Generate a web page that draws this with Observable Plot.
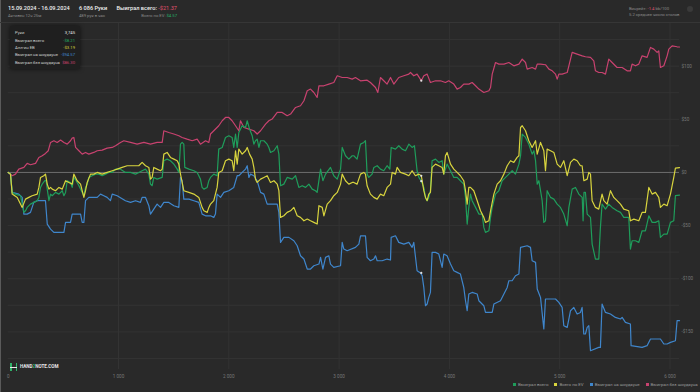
<!DOCTYPE html>
<html><head><meta charset="utf-8">
<script src="https://cdn.jsdelivr.net/npm/d3@7"></script>
<script src="https://cdn.jsdelivr.net/npm/@observablehq/plot@0.6"></script>
<style>
html,body{margin:0;padding:0;background:#292929;}
body{font-family:Roboto,"Noto Sans",sans-serif;}
#wrap{position:relative;width:700px;height:392px;background:#292929;overflow:hidden;}
.abs{position:absolute;white-space:nowrap;line-height:1;}
#chart{position:absolute;left:0;top:22px;width:700px;height:370px;border-top:1px solid #363636;box-sizing:border-box;}
#chart svg{display:block;}
#edge{position:absolute;left:0;top:0;width:1px;height:392px;background:#5a5a5a;}
.h1{color:#f0f0f0;font-size:5.6px;font-weight:500;}
.sub{color:#8a8a8a;font-size:4.2px;}
#tip{position:absolute;left:10px;top:26px;width:70px;height:43px;background:#1f1f1f;box-shadow:0 0 4px rgba(0,0,0,.6);border-radius:1px;}
#tip .row{position:absolute;left:5px;right:5px;font-size:4.2px;color:#d0d0d0;line-height:1;}
#tip .row span{position:absolute;right:0;top:0;}
#legend{position:absolute;top:383px;left:513px;font-size:4.4px;color:#9a9a9a;white-space:nowrap;line-height:1;}
#legend i{display:inline-block;width:3px;height:3px;margin-right:2px;vertical-align:0px;}
#legend b{font-weight:400;margin-right:6px;}
</style></head><body>
<div id="wrap">
  <div id="edge"></div>
  <div class="abs h1" style="left:8px;top:6px;">15.09.2024 - 16.09.2024</div>
  <div class="abs sub" style="left:8px;top:13.5px;">Активен 12ч 25м</div>
  <div class="abs h1" style="left:79px;top:6px;">6 086 Руки</div>
  <div class="abs sub" style="left:79px;top:13.5px;">489 рук в час</div>
  <div class="abs h1" style="left:116.5px;top:6px;">Выиграл всего: <span style="color:#e0516f;font-weight:400;">-$21.37</span></div>
  <div class="abs sub" style="right:523px;top:13.5px;">Всего по EV: <span style="color:#27b06a;">$4.57</span></div>
  <div class="abs sub" style="left:629px;top:7px;">Винрейт: <span style="color:#e0516f;">-1.4</span> bb/100</div>
  <div class="abs sub" style="left:629px;top:13px;">5.2 среднее число столов</div>
  <div class="abs" style="left:687px;top:6px;width:6px;height:6px;border-radius:50%;background:#3a3a3a;"></div>
  <div id="chart"></div>
  <div id="tip">
    <div class="row" style="top:5px;">Руки<span style="color:#e8e8e8;">3,745</span></div>
    <div class="row" style="top:12.5px;">Выиграл всего<span style="color:#22a862;">-$8.21</span></div>
    <div class="row" style="top:20px;">Алл-ин EB<span style="color:#d8d43e;">-$3.19</span></div>
    <div class="row" style="top:27.3px;">Выиграл на шоудауне<span style="color:#3f86cc;">-$94.57</span></div>
    <div class="row" style="top:34.5px;">Выиграл без шоудауна<span style="color:#c8426f;">$86.30</span></div>
  </div>
  <div class="abs" style="left:10px;top:363px;width:7px;height:8px;">
    <div style="position:absolute;left:0;top:0;width:1.5px;height:8px;background:#2fb36a;"></div>
    <div style="position:absolute;right:0;top:0;width:1.5px;height:8px;background:#2fb36a;"></div>
    <div style="position:absolute;left:0;top:3.5px;width:7px;height:1.3px;background:#e8e8e8;"></div>
  </div>
  <div class="abs" style="left:20px;top:365px;font-size:4.6px;font-weight:700;color:#e6e6e6;">HAND<span style="color:#2fb36a;">2</span>NOTE.COM</div>
  <div id="legend"></div>
</div>
<script>
// ---- data ----
const seriesNames = ["Выиграл всего", "Всего по EV", "Выиграл на шоудауне", "Выиграл без шоудауна"];
const seriesColors = ["#1f9d5b", "#d8d43e", "#3f86cc", "#c8426f"];

const wonTotal = [[0,0],[21,-1.6],[36,-18.8],[66,-20.4],[112,-21.9],[127,-29.8],[142,-37.6],[157,-36.1],[172,-32.9],[202,-29.8],[232,-28.2],[263,-26.6],[278,-23.5],[293,-14.1],[308,-11],[332,-7.8],[344,-7.8],[354,-15.7],[369,-26.6],[384,-20.4],[399,-21.9],[429,-18.8],[460,-20.4],[490,-17.2],[505,-21.9],[520,-18.8],[535,-7.8],[565,-9.4],[580,-14.1],[595,-4.7],[616,-7.8],[641,-12.5],[671,-18.8],[686,-21.9],[701,-14.1],[716,-11],[731,-4.7],[761,-3.1],[792,-1.6],[822,-1.6],[852,-3.1],[882,-1.6],[912,0],[943,0],[973,3.1],[1018,3.1],[1063,0],[1109,0],[1154,-1.6],[1184,0],[1214,1.6],[1245,3.1],[1275,-1.6],[1290,-11],[1305,-12.5],[1320,-4.7],[1350,-6.3],[1396,-4.7],[1411,11],[1441,12.5],[1471,11],[1502,7.8],[1532,3.1],[1547,0],[1562,26.6],[1577,28.2],[1592,26.6],[1601,4.7],[1638,3.1],[1683,1.6],[1713,0],[1728,-3.1],[1743,-6.3],[1758,-14.1],[1774,-15.7],[1804,-14.1],[1819,-7.8],[1834,-4.7],[1864,-1.6],[1894,-3.1],[1909,21.9],[1940,23.5],[1970,32.9],[2000,34.5],[2030,32.9],[2045,23.5],[2061,36.1],[2076,23.5],[2091,37.6],[2121,43.9],[2152,42.3],[2167,48.6],[2188,40.8],[2212,34.5],[2227,26.6],[2242,29.8],[2257,31.3],[2273,23.5],[2288,29.8],[2318,29.8],[2348,26.6],[2363,23.5],[2378,18.8],[2409,20.4],[2439,25.1],[2454,17.2],[2469,-12.5],[2499,-11],[2529,-4.7],[2575,-6.3],[2605,-3.1],[2635,-14.1],[2665,-12.5],[2696,-14.1],[2726,-11],[2756,-15.7],[2786,-17.2],[2801,-18.8],[2832,3.1],[2853,-7.8],[2877,-1.6],[2922,4.7],[2952,-3.1],[2983,-6.3],[3013,3.1],[3028,23.5],[3058,15.7],[3088,12.5],[3119,15.7],[3133,15.7],[3163,12.5],[3194,26.6],[3224,28.2],[3239,29.8],[3254,-1.6],[3269,-4.7],[3299,-1.6],[3315,4.7],[3345,6.3],[3375,3.1],[3405,1.6],[3435,6.3],[3460,3.1],[3472,23.5],[3511,21.9],[3541,25.1],[3571,21.9],[3602,20.4],[3632,26.6],[3662,23.5],[3683,25.1],[3707,1.6],[3723,-4.7],[3745,-8.21],[3768,-14.1],[3783,-23.5],[3798,-26.6],[3813,-23.5],[3828,-17.2],[3843,11],[3874,12.5],[3904,9.4],[3934,11],[3949,-1.6],[3979,7.8],[4010,1.6],[4040,-4.7],[4070,-4.7],[4100,-7.8],[4130,-11],[4146,-23.5],[4161,-48.6],[4176,-32.9],[4191,-20.4],[4206,-26.6],[4237,-32.9],[4267,-39.2],[4297,-39.2],[4312,-51.7],[4327,-56.4],[4358,-54.9],[4373,-42.3],[4388,-32.9],[4418,-20.4],[4448,-17.2],[4478,-7.8],[4509,-4.7],[4539,-1.6],[4569,1.6],[4599,-1.6],[4630,7.8],[4645,15.7],[4660,36.1],[4690,32.9],[4720,26.6],[4750,17.2],[4766,20.4],[4781,11],[4796,-11],[4811,-7.8],[4841,-26.6],[4856,-47],[4871,-45.5],[4886,-17.2],[4917,-23.5],[4947,-25.1],[4977,-29.8],[5007,-32.9],[5037,-39.2],[5068,-50.2],[5083,-32.9],[5113,-15.7],[5143,-14.1],[5173,-20.4],[5204,-23.5],[5212,-45.5],[5220,-18.8],[5233,-18.8],[5249,-39.2],[5279,-42.3],[5294,-67.4],[5324,-81.5],[5354,-81.5],[5369,-51.7],[5384,-29.8],[5415,-34.5],[5445,-29.8],[5475,-32.9],[5520,-36.1],[5551,-37.6],[5581,-42.3],[5626,-42.3],[5641,-72.1],[5656,-64.3],[5687,-64.3],[5717,-65.8],[5747,-54.9],[5777,-54.9],[5808,-40.8],[5838,-47],[5868,-47],[5898,-45.5],[5913,-61.1],[5944,-58],[5974,-58],[6004,-47],[6034,-45.5],[6049,-21.9],[6086,-21.37]];

const allInEV = [[0,0],[21,-1.6],[36,-20.4],[82,-23.5],[127,-32.9],[157,-25.1],[187,-23.5],[217,-21.9],[263,-20.4],[278,-14.1],[293,-4.7],[323,-3.1],[338,-1.6],[354,-11],[369,-15.7],[384,-14.1],[399,-15.7],[429,-17.2],[460,-14.1],[490,-15.7],[520,-7.8],[550,-9.4],[580,-11],[595,-1.6],[625,-7.8],[656,-11],[686,-23.5],[701,-17.2],[716,-9.4],[746,-1.6],[776,-1.6],[807,0],[852,-1.6],[897,0],[943,1.6],[988,3.1],[1033,4.7],[1078,6.3],[1139,6.3],[1184,6.3],[1214,9.4],[1245,6.3],[1275,4.7],[1290,-6.3],[1305,-4.7],[1320,4.7],[1350,3.1],[1381,1.6],[1396,3.1],[1411,17.2],[1441,18.8],[1471,14.1],[1502,12.5],[1532,11],[1547,7.8],[1562,-1.6],[1592,-17.2],[1638,-18.8],[1683,-20.4],[1728,-23.5],[1758,-32.9],[1774,-36.1],[1804,-37.6],[1819,-32.9],[1834,-29.8],[1864,-26.6],[1894,-14.1],[1909,0],[1940,1.6],[1970,11],[2000,12.5],[2030,11],[2045,1.6],[2061,20.4],[2076,7.8],[2091,21.9],[2121,17.2],[2152,20.4],[2167,23.5],[2188,17.2],[2212,12.5],[2227,4.7],[2242,-6.3],[2257,-9.4],[2288,-6.3],[2318,-4.7],[2348,-3.1],[2378,-9.4],[2409,-7.8],[2439,-11],[2454,-17.2],[2469,-42.3],[2499,-40.8],[2529,-37.6],[2560,-36.1],[2590,-32.9],[2620,-40.8],[2650,-42.3],[2681,-45.5],[2711,-43.9],[2741,-45.5],[2771,-47],[2801,-48.6],[2817,-31.3],[2847,-32.9],[2862,-40.8],[2892,-29.8],[2922,-26.6],[2952,-21.9],[2983,-18.8],[3013,-11],[3028,-1.6],[3058,-7.8],[3088,-11],[3119,-9.4],[3133,-9.4],[3163,-11],[3194,-1.6],[3224,0],[3239,-1.6],[3254,-12.5],[3284,-20.4],[3315,-23.5],[3345,-25.1],[3375,-20.4],[3405,-21.9],[3435,-14.1],[3466,-11],[3481,0],[3511,-1.6],[3526,4.7],[3556,0],[3602,-1.6],[3632,-3.1],[3662,1.6],[3692,-3.1],[3723,-1.6],[3745,-3.19],[3753,-7.8],[3768,-17.2],[3783,-23.5],[3798,-26.6],[3813,-20.4],[3828,-18.8],[3843,4.7],[3874,7.8],[3904,6.3],[3934,4.7],[3949,-1.6],[3964,15.7],[3979,18.8],[4010,7.8],[4040,3.1],[4070,0],[4100,-3.1],[4130,-7.8],[4146,-17.2],[4161,-29.8],[4176,-14.1],[4191,-14.1],[4221,-17.2],[4252,-26.6],[4282,-36.1],[4312,-42.3],[4327,-47],[4358,-45.5],[4373,-36.1],[4403,-20.4],[4433,-11],[4463,-7.8],[4494,-1.6],[4524,6.3],[4554,11],[4584,9.4],[4614,14.1],[4630,15.7],[4645,42.3],[4660,43.9],[4690,39.2],[4720,29.8],[4750,23.5],[4781,29.8],[4796,17.2],[4826,28.2],[4856,20.4],[4871,1.6],[4886,21.9],[4917,20.4],[4947,18.8],[4977,7.8],[5007,4.7],[5037,11],[5068,-3.1],[5098,9.4],[5128,12.5],[5158,11],[5188,6.3],[5203,6.3],[5219,-7.8],[5249,-6.3],[5264,0],[5279,-1.6],[5294,-26.6],[5324,-32.9],[5354,-34.5],[5384,-20.4],[5400,-26.6],[5430,-29.8],[5460,-17.2],[5490,-23.5],[5520,-26.6],[5551,-29.8],[5581,-34.5],[5626,-36.1],[5641,-45.5],[5672,-43.9],[5717,-45.5],[5747,-37.6],[5777,-37.6],[5808,-14.1],[5838,-20.4],[5868,-18.8],[5898,-23.5],[5913,-32.9],[5944,-29.8],[5974,-31.3],[6004,-20.4],[6034,-4.7],[6049,4.1],[6086,4.57]];

const wonShowdown = [[0,0],[21,-1.6],[36,-18.8],[96,-20.4],[127,-23.5],[142,-39.2],[172,-39.2],[202,-37.6],[232,-28.2],[263,-26.6],[338,-26.6],[354,-48.6],[384,-53.3],[414,-56.4],[505,-56.4],[520,-47],[565,-47],[580,-39.2],[656,-39.2],[671,-47],[686,-47],[701,-26.6],[731,-23.5],[807,-23.5],[837,-20.4],[867,-21.9],[897,-23.5],[927,-26.6],[943,-20.4],[988,-21.9],[1063,-26.6],[1109,-28.2],[1154,-26.6],[1199,-28.2],[1214,-23.5],[1245,-23.5],[1275,-31.3],[1290,-39.2],[1320,-34.5],[1350,-29.8],[1381,-32.9],[1411,-28.2],[1456,-28.2],[1502,-31.3],[1547,-32.9],[1562,-4.7],[1577,-7.8],[1592,-25.1],[1638,-25.1],[1683,-26.6],[1728,-28.2],[1758,-39.2],[1789,-40.8],[1834,-40.8],[1864,-42.3],[1879,-39.2],[1894,-20.4],[1925,-23.5],[1955,-18.8],[2000,-17.2],[2045,-14.1],[2076,-3.1],[2091,-3.1],[2121,0],[2152,3.1],[2167,6.3],[2182,-4.7],[2197,-1.6],[2227,-3.1],[2257,-7.8],[2288,-18.8],[2318,-20.4],[2348,-29.8],[2439,-29.8],[2454,-37.6],[2469,-65.8],[2499,-61.1],[2545,-61.1],[2590,-64.3],[2620,-69],[2650,-78.4],[2681,-81.5],[2711,-90.9],[2741,-90.9],[2771,-87.8],[2817,-86.2],[2832,-79.9],[2853,-90.9],[2877,-79.9],[2907,-78.4],[2922,-86.2],[2952,-89.3],[3013,-87.8],[3028,-65.8],[3043,-72.1],[3073,-73.7],[3148,-70.5],[3179,-67.4],[3194,-59.6],[3239,-59.6],[3254,-79.9],[3284,-83.1],[3315,-81.5],[3330,-78.4],[3345,-83.1],[3390,-83.1],[3435,-81.5],[3466,-82.4],[3472,-61.1],[3511,-59.6],[3541,-65.8],[3587,-67.4],[3632,-65.8],[3662,-70.5],[3677,-65.8],[3707,-92.5],[3738,-94.6],[3753,-97.2],[3768,-108.2],[3783,-125.4],[3798,-123.8],[3813,-117.6],[3828,-112.9],[3843,-75.2],[3874,-75.2],[3904,-76.8],[3934,-89.3],[3949,-76.8],[3979,-78.4],[4010,-86.2],[4040,-92.5],[4070,-94],[4100,-95.6],[4130,-108.2],[4146,-120.7],[4161,-130.1],[4176,-114.4],[4206,-112.9],[4252,-114.4],[4267,-120.7],[4312,-125.4],[4327,-131.7],[4388,-131.7],[4403,-123.8],[4463,-120.7],[4494,-114.4],[4524,-108.2],[4539,-101.9],[4569,-101.9],[4599,-97.2],[4630,-95.6],[4645,-70.5],[4705,-69],[4735,-70.5],[4750,-83.1],[4781,-84.6],[4796,-109.7],[4826,-117.6],[4856,-147.3],[4871,-119.1],[4962,-119.1],[4992,-122.3],[5022,-127],[5037,-144.2],[5068,-145.8],[5098,-130.1],[5128,-127],[5158,-133.2],[5188,-131.7],[5203,-127],[5218,-152],[5233,-152],[5249,-145.8],[5264,-144.2],[5279,-167.7],[5354,-164.6],[5369,-164.6],[5384,-123.8],[5415,-131.7],[5460,-133.2],[5505,-136.4],[5551,-137.9],[5566,-136.4],[5596,-141.1],[5641,-142.6],[5647,-163],[5747,-164.6],[5792,-163],[5823,-156.7],[5913,-156.7],[5944,-161.4],[5974,-161.4],[6004,-159.9],[6049,-158.3],[6064,-139.5],[6086,-139.4]];

const wonNonShowdown = [[0,0],[36,-3.1],[66,-1.6],[96,3.1],[142,4.7],[172,8.5],[202,7.2],[248,8.5],[278,14.1],[308,15.7],[338,17.9],[363,20.4],[384,28.2],[414,29.8],[444,28.2],[475,30.4],[505,28.2],[535,26.6],[565,29.8],[580,32.3],[595,32.9],[611,23.5],[641,20.4],[671,17.2],[701,18.8],[731,17.2],[776,18.8],[807,20.4],[852,21],[897,22.9],[943,23.5],[973,25.1],[1018,28.2],[1048,29.8],[1109,28.2],[1169,26.6],[1230,28.2],[1290,26.6],[1350,28.2],[1396,28.2],[1411,39.2],[1456,37.6],[1502,36.1],[1547,34.5],[1577,32.9],[1622,31.3],[1668,29.8],[1713,31.3],[1743,26.6],[1789,29.8],[1819,28.2],[1834,36.1],[1864,39.2],[1909,43.9],[1940,48.6],[1970,51.7],[2000,51.7],[2030,48.6],[2061,43.9],[2091,39.2],[2106,48.6],[2137,42.3],[2182,40.8],[2227,39.2],[2257,36.1],[2288,39.2],[2333,45.5],[2363,48.6],[2393,50.2],[2439,56.4],[2484,56.4],[2529,53.3],[2560,54.9],[2605,61.1],[2650,62.7],[2681,67.4],[2711,76.8],[2741,78.4],[2771,75.2],[2801,70.5],[2817,81.5],[2862,81.5],[2907,83.1],[2952,84.6],[2983,90.9],[3028,89.3],[3073,89.3],[3119,87.8],[3148,89.3],[3194,86.2],[3254,86.8],[3284,84.6],[3330,79.9],[3351,75.2],[3375,89.3],[3405,86.2],[3435,83.1],[3466,89.3],[3496,83.1],[3541,89.3],[3587,90.9],[3632,92.5],[3647,94],[3677,90.9],[3707,92.5],[3745,86.3],[3768,90.9],[3798,92.5],[3828,84.6],[3874,86.2],[3919,86.2],[3964,84.6],[3994,86.2],[4040,83.1],[4070,78.4],[4100,79.9],[4130,83.1],[4176,83.1],[4206,84.6],[4237,81.5],[4267,78.4],[4312,75.2],[4358,76.8],[4373,79.9],[4388,92.5],[4418,103.4],[4448,101.9],[4494,101.9],[4539,103.4],[4584,100.3],[4630,101.9],[4660,106.6],[4690,103.4],[4705,97.2],[4750,98.7],[4781,97.2],[4796,101.9],[4826,101.9],[4871,101.3],[4902,97.2],[4932,95.6],[4962,92.5],[4977,87.8],[4992,92.5],[5022,92.5],[5068,94],[5083,100.3],[5113,112.9],[5158,111.3],[5204,109.7],[5233,108.8],[5279,108.2],[5309,105],[5324,95.6],[5354,94],[5384,94],[5415,92.5],[5445,106.6],[5475,103.4],[5520,98.7],[5566,98.7],[5611,95.6],[5641,95.6],[5656,101.9],[5687,100.3],[5717,101.9],[5747,109.7],[5792,108.2],[5823,117.6],[5853,116],[5883,112.9],[5898,114.4],[5913,98.7],[5944,100.3],[5974,109.7],[5989,116],[6019,119.1],[6064,118.2],[6086,118]];

const hoverHand = 3745;
const hoverValues = [-8.21, -3.19, -94.57, 86.30];

const xTicks = [0, 1000, 2000, 3000, 4000, 5000, 6000];
const xTickLabels = ["0", "1 000", "2 000", "3 000", "4 000", "5 000", "6 000"];
const yTicks = [100, 50, 0, -50, -100, -150];
const yTickLabels = ["$100", "$50", "$0", "-$50", "-$100", "-$150"];
const yGrid = [125, 100, 75, 50, 25, -25, -50, -75, -100, -125, -150, -175];

// ---- build ----
const seriesData = [wonTotal, allInEV, wonShowdown, wonNonShowdown];
const rows = seriesData.map((arr, i) => arr.map(([hand, value]) => ({hand, value, s: i})));
const hoverRows = hoverValues.map((v, i) => ({hand: hoverHand, value: v, s: i}));
const drawOrder = [3, 2, 0, 1];

const plot = Plot.plot({
  width: 700,
  height: 369,
  marginLeft: 7.7,
  marginRight: 21,
  marginTop: 0,
  marginBottom: 23,
  style: {background: "transparent", color: "#7a7a7a", fontFamily: "Roboto, sans-serif", fontSize: "4.6px"},
  x: {domain: [0, 6086]},
  y: {domain: [-185.4, 140.1]},
  marks: [
    Plot.ruleY(yGrid, {stroke: "#333333", strokeWidth: 1}),
    Plot.ruleX(xTicks.slice(1), {stroke: "#333333", strokeWidth: 1, y1: -185.4, y2: 140.1}),
    Plot.ruleY([0], {stroke: "#6e6e6e", strokeWidth: 1}),
    ...drawOrder.map(i => Plot.line(rows[i], {x: "hand", y: "value", stroke: seriesColors[i], strokeWidth: 1.2, curve: "linear"})),
    Plot.dot(hoverRows, {x: "hand", y: "value", r: 1.1, fill: "#e0e0e0", stroke: null}),
    Plot.axisY(yTicks, {anchor: "right", tickSize: 0, tickPadding: 2, tickFormat: (d) => yTickLabels[yTicks.indexOf(d)], fill: "#777", label: null}),
    Plot.axisX(xTicks, {anchor: "bottom", tickSize: 0, tickPadding: 5, tickFormat: d => xTickLabels[xTicks.indexOf(d)], fill: "#777", label: null})
  ]
});
document.getElementById("chart").appendChild(plot);

const legend = document.getElementById("legend");
seriesNames.forEach((n, i) => {
  const b = document.createElement("b");
  b.innerHTML = `<i style="background:${seriesColors[i]}"></i>${n}`;
  legend.appendChild(b);
});
</script>
</body></html>
